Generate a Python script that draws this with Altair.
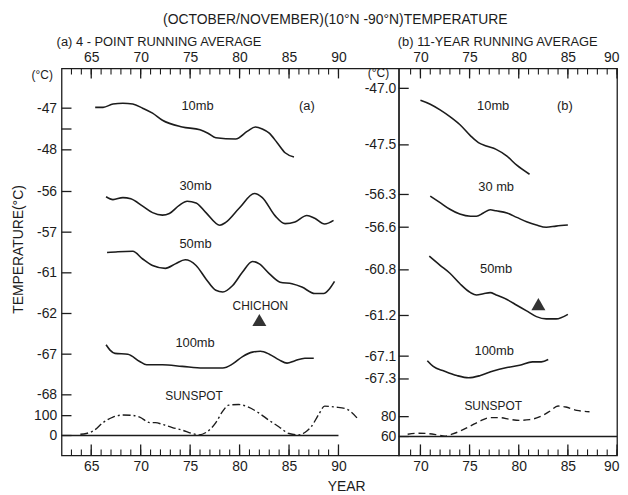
import altair as alt
import pandas as pd

# ---------------- data ----------------
# (a) 4-point running average
a10_year = [65.4, 66.2, 67.2, 68.2, 69.2, 70.2, 71.2, 72.2, 74.2, 76.0, 76.8, 77.6, 79.6, 80.8, 81.6, 82.3, 83.0, 83.8, 84.6, 85.5]
a10_temp = [-46.98, -46.98, -46.90, -46.88, -46.90, -47.00, -47.12, -47.29, -47.45, -47.52, -47.60, -47.71, -47.74, -47.55, -47.45, -47.50, -47.60, -47.83, -48.07, -48.17]
a30_year = [66.5, 67.2, 68.2, 69.0, 70.2, 71.2, 72.2, 72.9, 73.9, 74.7, 75.6, 76.6, 78.0, 78.6, 80.0, 81.5, 82.3, 83.6, 84.6, 85.6, 86.8, 87.6, 88.6, 89.5]
a30_temp = [-56.13, -56.20, -56.15, -56.18, -56.36, -56.52, -56.58, -56.54, -56.34, -56.24, -56.28, -56.52, -56.83, -56.76, -56.40, -56.05, -56.15, -56.60, -56.79, -56.75, -56.59, -56.66, -56.80, -56.71]
a50_year = [66.6, 67.7, 69.2, 70.2, 71.2, 72.5, 73.5, 74.5, 75.6, 76.6, 77.6, 78.3, 79.3, 80.3, 81.3, 82.0, 83.0, 84.1, 85.3, 86.3, 87.6, 88.5, 89.1, 89.6]
a50_temp = [-60.50, -60.48, -60.47, -60.66, -60.82, -60.89, -60.78, -60.68, -60.82, -61.15, -61.43, -61.47, -61.31, -60.98, -60.72, -60.78, -61.02, -61.23, -61.27, -61.35, -61.51, -61.51, -61.39, -61.21]
a100_year = [66.5, 66.9, 67.4, 68.7, 69.9, 70.6, 72.2, 74.2, 76.3, 78.3, 79.3, 80.3, 81.3, 82.1, 83.0, 84.0, 84.8, 85.6, 86.6, 87.5]
a100_temp = [-66.77, -66.90, -66.98, -67.00, -67.18, -67.26, -67.26, -67.30, -67.34, -67.34, -67.24, -67.06, -66.95, -66.93, -67.00, -67.14, -67.22, -67.16, -67.10, -67.10]
a_ss_year = [63.9, 64.5, 65.2, 66.2, 67.2, 68.2, 69.2, 69.9, 70.9, 71.5, 72.2, 73.2, 74.2, 75.2, 75.9, 76.6, 77.6, 78.3, 78.9, 79.9, 80.9, 81.9, 83.0, 84.0, 85.0, 86.0, 86.6, 87.3, 88.0, 88.6, 89.7, 90.7, 91.3, 92.0]
a_ss_val = [6, 10, 23, 65, 93, 103, 101, 93, 65, 65, 56, 40, 27, 10, 3, 15, 65, 123, 153, 156, 143, 115, 76, 43, 10, 3, 15, 48, 106, 148, 143, 136, 118, 81]

# (b) 11-year running average
b10_year = [70.0, 71.0, 72.0, 73.0, 74.0, 75.1, 75.9, 76.7, 77.7, 78.8, 79.8, 81.1]
b10_temp = [-47.105, -47.14, -47.19, -47.25, -47.32, -47.42, -47.48, -47.51, -47.54, -47.60, -47.68, -47.76]
b30_year = [71.0, 72.0, 73.0, 74.0, 75.1, 75.7, 76.4, 77.1, 77.7, 78.8, 79.8, 80.8, 81.8, 82.8, 83.8, 85.0]
b30_temp = [-56.315, -56.375, -56.436, -56.48, -56.50, -56.50, -56.47, -56.44, -56.45, -56.47, -56.51, -56.55, -56.58, -56.60, -56.59, -56.58]
b50_year = [70.9, 72.0, 73.0, 74.0, 75.1, 75.7, 76.4, 77.1, 77.7, 78.8, 79.8, 80.8, 81.8, 82.8, 83.8, 85.0]
b50_temp = [-60.68, -60.76, -60.83, -60.92, -61.00, -61.02, -61.01, -61.00, -61.02, -61.06, -61.11, -61.16, -61.21, -61.23, -61.23, -61.19]
b100_year = [70.7, 71.3, 72.4, 73.7, 74.9, 76.1, 77.4, 78.8, 80.1, 81.4, 82.3, 83.0]
b100_temp = [-67.14, -67.19, -67.23, -67.27, -67.29, -67.27, -67.23, -67.20, -67.18, -67.15, -67.15, -67.13]
b_ss_year = [68.7, 69.7, 70.7, 71.7, 72.5, 73.2, 74.1, 75.1, 76.1, 77.1, 78.1, 79.1, 80.1, 81.1, 82.1, 83.2, 84.0, 84.8, 85.9, 87.2]
b_ss_val = [62.3, 63.3, 63.0, 61.7, 60.3, 62.3, 65.7, 70.7, 75.7, 79.0, 79.0, 77.3, 76.3, 77.0, 79.7, 85.7, 90.7, 89.7, 86.3, 85.0]

# El Chichon eruption marker
chichon_year = 82.0
chichon_a_temp = -62.16   # drawn in the 50 mb band of (a)
chichon_b_temp = -61.10   # drawn in the 50 mb band of (b)

# axis ticks
a_major = [65, 70, 75, 80, 85, 90]
a_minor = list(range(63, 91))
b_major = [70, 75, 80, 85, 90]
b_minor = list(range(69, 91))
a_ylabels = [("10mb", -47, "-47"), ("10mb", -47.5, ""), ("10mb", -48, "-48"),
             ("30mb", -56, "-56"), ("30mb", -57, "-57"),
             ("50mb", -61, "-61"), ("50mb", -62, "-62"),
             ("100mb", -67, "-67"), ("100mb", -68, "-68"),
             ("ss", 100, "100"), ("ss", 0, "0")]
b_ylabels = [("10mb", -47.0, "-47.0"), ("10mb", -47.5, "-47.5"),
             ("30mb", -56.3, "-56.3"), ("30mb", -56.6, "-56.6"),
             ("50mb", -60.8, "-60.8"), ("50mb", -61.2, "-61.2"),
             ("100mb", -67.1, "-67.1"), ("100mb", -67.3, "-67.3"),
             ("ss", 80, "80"), ("ss", 60, "60")]

# ---------------- layout of the broken (banded) y axis ----------------
H = 390
# band: (anchor value, position of anchor in plot units from bottom, units per degree)
A_BANDS = {"10mb": (-47, 350, 42), "30mb": (-56, 266, 41), "50mb": (-61, 184, 41),
           "100mb": (-67, 102, 41), "ss": (0, 20, 0.2)}
B_BANDS = {"10mb": (-47.0, 370, 114), "30mb": (-56.3, 263, 110), "50mb": (-60.8, 187, 115),
           "100mb": (-67.1, 100, 115), "ss": (60, 19, 1.0)}


def band(bands, name, v):
    anchor, at, k = bands[name]
    return round(at + (v - anchor) * k, 3)


def curve_df(bands, items):
    rows = []
    for name, yrs, vals in items:
        for yr, v in zip(yrs, vals):
            rows.append({"series": name, "year": yr, "u": band(bands, name, v)})
    return pd.DataFrame(rows)


FONT = "Liberation Sans"
INK = "#1c1c1c"


def label_expr(pairs):
    parts = [f"abs(datum.value - {u}) < 0.5 ? '{lab}'" for u, lab in pairs]
    return " : ".join(parts) + " : ''"


def make_panel(bands, xdom, W, curves, ss, ss_dash, base, major, minor, ylabels,
               texts, tri, title, title_dx, left_title, year_title, unit_x, unit_y, flush):
    xs = alt.Scale(domain=xdom, nice=False, zero=False)
    ys = alt.Scale(domain=[0, H], nice=False, zero=False)
    X0 = alt.X("year:Q", scale=xs, axis=None)
    Y0 = alt.Y("u:Q", scale=ys, axis=None)

    lines = alt.Chart(curves).mark_line(color=INK, strokeWidth=1.6, interpolate="monotone").encode(
        x=X0, y=Y0, detail="series:N")
    ssl = alt.Chart(ss).mark_line(color=INK, strokeWidth=1.4, interpolate="monotone",
                                  strokeDash=ss_dash).encode(x=X0, y=Y0)
    basel = alt.Chart(base).mark_rule(color=INK, strokeWidth=1.3).encode(
        x=X0, x2="year2:Q", y=Y0)

    common = dict(values=major, ticks=False, domain=False, grid=False,
                  labelFont=FONT, labelFontSize=14, labelColor=INK,
                  labelFlush=flush, labelFlushOffset=2 if flush else 0)
    if year_title:
        bot_axis = alt.Axis(orient="bottom", labelPadding=4, title="YEAR", titleFont=FONT,
                            titleFontSize=14, titleFontWeight="normal", titleColor=INK,
                            titleX=year_title, titleY=31, titleBaseline="middle",
                            titleAlign="center", **common)
    else:
        bot_axis = alt.Axis(orient="bottom", labelPadding=4, title=None, **common)
    top_axis = alt.Axis(orient="top", labelPadding=4, title="(°C)", titleFont=FONT,
                        titleFontSize=12, titleFontWeight="normal", titleColor=INK,
                        titleAngle=0, titleX=unit_x, titleY=unit_y, titleBaseline="middle",
                        titleAlign="center", **common)

    maj_df = pd.DataFrame({"year": major})
    min_df = pd.DataFrame({"year": minor})
    bmaj = alt.Chart(maj_df).mark_rule(color=INK, strokeWidth=1.3).encode(
        x=alt.X("year:Q", scale=xs, axis=bot_axis), y=alt.value(H), y2=alt.value(H - 11))
    bmin = alt.Chart(min_df).mark_rule(color=INK, strokeWidth=1.1).encode(
        x=X0, y=alt.value(H), y2=alt.value(H - 6))
    tmaj = alt.Chart(maj_df).mark_rule(color=INK, strokeWidth=1.3).encode(
        x=alt.X("year:Q", scale=xs, axis=top_axis), y=alt.value(0), y2=alt.value(10))
    tmin = alt.Chart(min_df).mark_rule(color=INK, strokeWidth=1.1).encode(
        x=X0, y=alt.value(0), y2=alt.value(6))

    yt = pd.DataFrame({"u": [band(bands, n, v) for n, v, _ in ylabels],
                       "lab": [lab for _, _, lab in ylabels]})
    pairs = list(zip(yt["u"], yt["lab"]))
    if left_title:
        y_axis = alt.Axis(orient="left", values=list(yt["u"]), labelExpr=label_expr(pairs),
                          ticks=False, domain=False, grid=False, labelPadding=5,
                          labelFont=FONT, labelFontSize=14, labelColor=INK,
                          title="TEMPERATURE(°C)", titleFont=FONT, titleFontSize=14,
                          titleFontWeight="normal", titleColor=INK, titleX=-43, titleY=182,
                          titleAngle=-90, titleBaseline="middle", titleAlign="center")
    else:
        y_axis = alt.Axis(orient="left", values=list(yt["u"]), labelExpr=label_expr(pairs),
                          ticks=False, domain=False, grid=False, labelPadding=3,
                          labelFont=FONT, labelFontSize=14, labelColor=INK, title=None)
    yticks = alt.Chart(yt).mark_rule(color=INK, strokeWidth=1.3).encode(
        y=alt.Y("u:Q", scale=ys, axis=y_axis), x=alt.value(0), x2=alt.value(10))

    txt = alt.Chart(texts).mark_text(font=FONT, color=INK, align="center", baseline="middle").encode(
        x=X0, y=Y0, text="t:N", size=alt.Size("fs:Q", scale=None, legend=None))
    trip = alt.Chart(tri).mark_point(shape="triangle-up", filled=True, color="#333333",
                                     size=200, opacity=1).encode(x=X0, y=Y0)

    return alt.layer(basel, lines, ssl, bmaj, bmin, tmaj, tmin, yticks, txt, trip).resolve_axis(
        x="independent", y="independent").properties(
        width=W, height=H,
        title=alt.TitleParams(title, anchor="start", frame="group", font=FONT, fontSize=13,
                              fontWeight="normal", color=INK, dx=title_dx, offset=2))


# ---- panel (a)
a_curves = curve_df(A_BANDS, [("10mb", a10_year, a10_temp), ("30mb", a30_year, a30_temp),
                              ("50mb", a50_year, a50_temp), ("100mb", a100_year, a100_temp)])
a_ss = curve_df(A_BANDS, [("ss", a_ss_year, a_ss_val)])
a_base = pd.DataFrame({"year": [62], "year2": [90], "u": [band(A_BANDS, "ss", 0)]})
a_texts = pd.DataFrame({
    "t": ["10mb", "(a)", "30mb", "50mb", "CHICHON", "100mb", "SUNSPOT"],
    "year": [75.75, 86.8, 75.55, 75.55, 82.1, 75.5, 75.4],
    "u": [352, 352, 272, 213, 151, 113, 60],
    "fs": [13, 13, 13, 13, 12, 13, 12]})
a_tri = pd.DataFrame({"year": [chichon_year], "u": [band(A_BANDS, "50mb", chichon_a_temp)]})

left = make_panel(A_BANDS, [62, 96.1], 340, a_curves, a_ss, [8, 3, 2, 3], a_base, a_major, a_minor,
                  a_ylabels, a_texts, a_tri, "(a) 4 - POINT  RUNNING AVERAGE", -5, True, 287,
                  -20, 6, False)

# ---- panel (b)
b_curves = curve_df(B_BANDS, [("10mb", b10_year, b10_temp), ("30mb", b30_year, b30_temp),
                              ("50mb", b50_year, b50_temp), ("100mb", b100_year, b100_temp)])
b_ss = curve_df(B_BANDS, [("ss", b_ss_year, b_ss_val)])
b_base = pd.DataFrame({"year": [67.8], "year2": [90.0], "u": [band(B_BANDS, "ss", 60)]})
b_texts = pd.DataFrame({
    "t": ["10mb", "(b)", "30 mb", "50mb", "100mb", "SUNSPOT"],
    "year": [77.4, 84.7, 77.7, 77.7, 77.5, 77.4],
    "u": [352, 352, 271, 188, 105, 50],
    "fs": [13, 13, 13, 13, 13, 12]})
b_tri = pd.DataFrame({"year": [chichon_year], "u": [band(B_BANDS, "50mb", chichon_b_temp)]})

right = make_panel(B_BANDS, [67.8, 90.0], 220, b_curves, b_ss, [7, 4], b_base, b_major, b_minor,
                   b_ylabels, b_texts, b_tri, "(b) 11-YEAR RUNNING AVERAGE", -1, False, None,
                   -21, 4, True)

chart = alt.hconcat(left, right, spacing=0, bounds="flush").properties(
    title=alt.TitleParams("(OCTOBER/NOVEMBER)(10°N -90°N)TEMPERATURE", anchor="middle",
                          font=FONT, fontSize=14, fontWeight="normal", color=INK, offset=8,
                          dx=20),
    padding={"left": 3, "top": 3, "right": 0, "bottom": 0},
    background="white",
).configure_view(stroke=INK, strokeWidth=1.3)

chart.save("out.html", embed_options={"renderer": "svg", "actions": False})
